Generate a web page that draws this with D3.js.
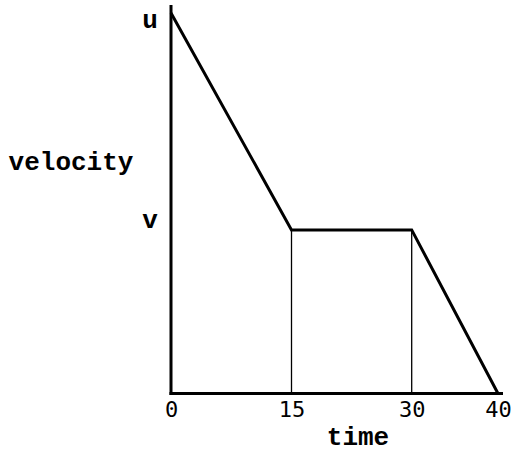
<!DOCTYPE html>
<html>
<head>
<meta charset="utf-8">
<script src="https://cdn.jsdelivr.net/npm/d3@7"></script>
<style>
  body { margin: 0; background: #fff; }
  .lbl { font-family: "Liberation Mono", "Courier New", monospace; font-weight: bold; font-size: 26px; }
  .tick text { font-family: "DejaVu Sans Mono", monospace; font-size: 22px; fill: #000; }
</style>
</head>
<body>
<div id="chart"></div>
<script>
// velocity-time data (u and v are symbolic levels)
var times = [0, 15, 30, 40];
var velocities = [20, 8.6, 8.6, 0];
var timeTicks = [0, 15, 30, 40];
var velocityLabels = ["u", "v"];
var velocityLevels = [20, 8.6];

var svgWidth = 513;
var svgHeight = 452;

var svg = d3.select("#chart")
  .append("svg")
  .attr("width", svgWidth)
  .attr("height", svgHeight);

// schematic drawing: time axis is not drawn to a strict linear scale
var xScale = d3.scaleLinear()
  .domain([0, 15, 30, 40])
  .range([171, 291.5, 411.7, 498]);

var yScale = d3.scaleLinear()
  .domain([0, 20])
  .range([393.5, 13]);

// axes
svg.append("line")
  .attr("x1", xScale(0)).attr("x2", xScale(0))
  .attr("y1", yScale(20) - 8).attr("y2", yScale(0) + 1.5)
  .attr("stroke", "#000").attr("stroke-width", 3);

svg.append("line")
  .attr("x1", xScale(0) - 1.5).attr("x2", xScale(40) + 5)
  .attr("y1", yScale(0)).attr("y2", yScale(0))
  .attr("stroke", "#000").attr("stroke-width", 3);

// thin drop lines at the ends of the constant section
svg.selectAll(".drop")
  .data([1, 2])
  .enter()
  .append("line")
  .attr("class", "drop")
  .attr("x1", i => xScale(times[i])).attr("x2", i => xScale(times[i]))
  .attr("y1", i => yScale(velocities[i])).attr("y2", yScale(0))
  .attr("stroke", "#000").attr("stroke-width", 1.3);

// velocity line
var line = d3.line()
  .x((d, i) => xScale(times[i]))
  .y(d => yScale(d));

svg.append("path")
  .datum(velocities)
  .attr("d", line)
  .attr("fill", "none")
  .attr("stroke", "#000")
  .attr("stroke-width", 3)
  .attr("stroke-linejoin", "miter");

// time tick labels
var bottomAxis = d3.axisBottom(xScale)
  .tickValues(timeTicks)
  .tickSize(0)
  .tickPadding(8)
  .tickFormat(d3.format("d"));

svg.append("g")
  .attr("transform", `translate(0, ${yScale(0)})`)
  .call(bottomAxis)
  .call(g => g.select(".domain").remove());

// velocity level labels
svg.selectAll(".vlabel")
  .data(velocityLabels)
  .enter()
  .append("text")
  .attr("class", "lbl")
  .attr("x", 150)
  .attr("y", (d, i) => i === 0 ? yScale(velocityLevels[i]) + 15 : yScale(velocityLevels[i]) - 2)
  .attr("text-anchor", "middle")
  .text(d => d);

svg.append("text")
  .attr("class", "lbl")
  .attr("x", 71)
  .attr("y", 170)
  .attr("text-anchor", "middle")
  .text("velocity");

svg.append("text")
  .attr("class", "lbl")
  .attr("x", 358)
  .attr("y", 445)
  .attr("text-anchor", "middle")
  .text("time");
</script>
</body>
</html>
